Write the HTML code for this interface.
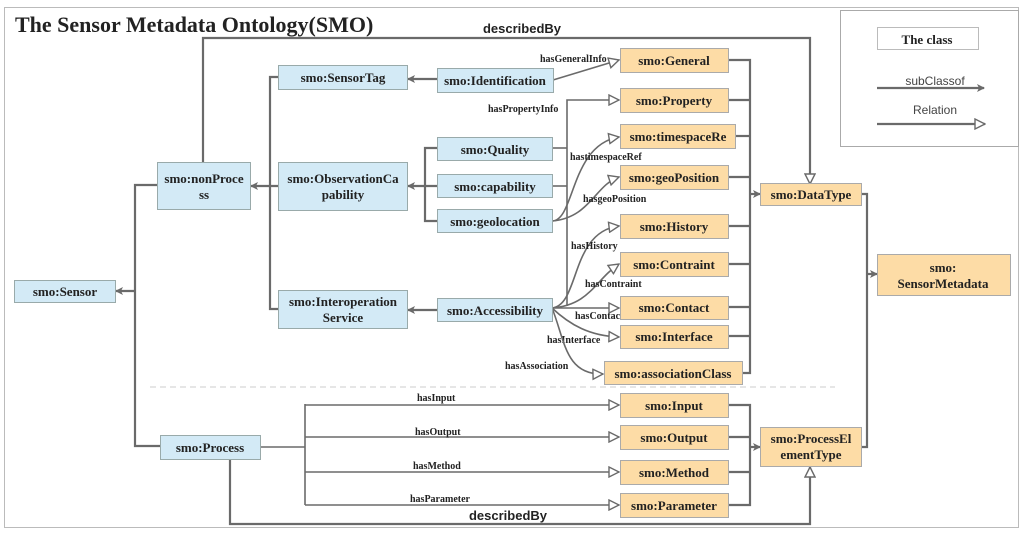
<!DOCTYPE html>
<html><head><meta charset="utf-8"><style>
body{margin:0;background:#fff}
svg{display:block}
.b{fill:#d3eaf6;stroke:#9aa;stroke-width:1}
.o{fill:#fddca6;stroke:#aaa;stroke-width:1}
.t{font-family:"Liberation Serif",serif;font-weight:bold;font-size:13px;fill:#222;text-anchor:middle}
.l{font-family:"Liberation Serif",serif;font-weight:bold;font-size:10px;fill:#222}
.s{stroke:#6a6a6a;stroke-width:2.2;fill:none}
.r{stroke:#6a6a6a;stroke-width:1.6;fill:none}
</style></head><body>
<svg width="1024" height="534" viewBox="0 0 1024 534" xmlns="http://www.w3.org/2000/svg">
<defs>
<marker id="f" markerWidth="8" markerHeight="8" refX="7" refY="4" orient="auto" markerUnits="userSpaceOnUse"><path d="M0,0 L8,4 L0,8 L2,4Z" fill="#6a6a6a"/></marker>
<marker id="h" markerWidth="12" markerHeight="12" refX="11" refY="6" orient="auto" markerUnits="userSpaceOnUse"><path d="M1,1 L11,6 L1,11Z" fill="#fff" stroke="#6a6a6a" stroke-width="1.4"/></marker>
</defs>
<rect x="4.5" y="7.5" width="1014" height="520" fill="none" stroke="#bbb"/>
<text x="15" y="32" style="font-family:'Liberation Serif',serif;font-weight:bold;font-size:22px;fill:#222">The Sensor Metadata Ontology(SMO)</text>
<!-- legend -->
<rect x="840.5" y="10.5" width="178" height="136" fill="#fff" stroke="#aaa"/>
<rect x="877.5" y="27.5" width="101" height="22" fill="#fff" stroke="#bbb"/>
<text x="927" y="44" class="t" style="font-size:13px">The  class</text>
<text x="935" y="85" style="font-family:'Liberation Sans',sans-serif;font-size:12px;fill:#444;text-anchor:middle">subClassof</text>
<line x1="877" y1="88" x2="984" y2="88" class="s" marker-end="url(#f)"/>
<text x="935" y="114" style="font-family:'Liberation Sans',sans-serif;font-size:12px;fill:#444;text-anchor:middle">Relation</text>
<line x1="877" y1="124" x2="985" y2="124" class="s" marker-end="url(#h)"/>
<line x1="150" y1="387" x2="835" y2="387" stroke="#ccc" stroke-dasharray="6,4"/>
<polyline points="203,162 203,38 810,38 810,184" class="s" marker-end="url(#h)"/>
<text x="522" y="33" style="font-family:'Liberation Sans',sans-serif;font-weight:bold;font-size:13px;fill:#222;text-anchor:middle">describedBy</text>
<polyline points="230,459 230,524 810,524 810,467" class="s" marker-end="url(#h)"/>
<text x="508" y="520" style="font-family:'Liberation Sans',sans-serif;font-weight:bold;font-size:13px;fill:#222;text-anchor:middle">describedBy</text>
<polyline points="157,185 135,185 135,446 160,446" class="s"/>
<line x1="135" y1="291" x2="116" y2="291" class="s" marker-end="url(#f)"/>
<polyline points="278,77 270,77 270,309 278,309" class="s"/>
<line x1="278" y1="186" x2="251" y2="186" class="s" marker-end="url(#f)"/>
<line x1="437" y1="79" x2="408" y2="79" class="s" marker-end="url(#f)"/>
<polyline points="437,148 425,148 425,221 437,221" class="s"/>
<line x1="437" y1="186" x2="408" y2="186" class="s" marker-end="url(#f)"/>
<line x1="437" y1="310" x2="408" y2="310" class="s" marker-end="url(#f)"/>
<polyline points="728,60 750,60 750,373 742,373" class="s"/>
<line x1="728" y1="100" x2="750" y2="100" class="s"/>
<line x1="735" y1="136" x2="750" y2="136" class="s"/>
<line x1="728" y1="177" x2="750" y2="177" class="s"/>
<line x1="728" y1="226" x2="750" y2="226" class="s"/>
<line x1="728" y1="264" x2="750" y2="264" class="s"/>
<line x1="728" y1="307" x2="750" y2="307" class="s"/>
<line x1="728" y1="336" x2="750" y2="336" class="s"/>
<line x1="750" y1="194" x2="760" y2="194" class="s" marker-end="url(#f)"/>
<polyline points="728,405 750,405 750,505 728,505" class="s"/>
<line x1="728" y1="437" x2="750" y2="437" class="s"/>
<line x1="728" y1="472" x2="750" y2="472" class="s"/>
<line x1="750" y1="447" x2="760" y2="447" class="s" marker-end="url(#f)"/>
<polyline points="861,194 867,194 867,447 861,447" class="s"/>
<line x1="867" y1="274" x2="877" y2="274" class="s" marker-end="url(#f)"/>
<line x1="553" y1="80" x2="619" y2="60" class="r" marker-end="url(#h)"/>
<text x="540" y="62" class="l">hasGeneralInfo</text>
<polyline points="552,148 567,148" class="r"/>
<polyline points="552,186 567,186" class="r"/>
<polyline points="567,306 567,100 619,100" class="r" marker-end="url(#h)"/>
<text x="488" y="112" class="l">hasPropertyInfo</text>
<path d="M552,221 C575,221 570,145 619,137" class="r" marker-end="url(#h)"/>
<text x="570" y="160" class="l">hastimespaceRef</text>
<path d="M552,221 C590,218 595,185 619,177" class="r" marker-end="url(#h)"/>
<text x="583" y="202" class="l">hasgeoPosition</text>
<path d="M552,308 C580,305 570,232 619,226" class="r" marker-end="url(#h)"/>
<text x="571" y="249" class="l">hasHistory</text>
<path d="M552,308 C590,305 595,280 619,264" class="r" marker-end="url(#h)"/>
<text x="585" y="287" class="l">hasContraint</text>
<line x1="552" y1="308" x2="619" y2="308" class="r" marker-end="url(#h)"/>
<text x="575" y="319" class="l">hasContact</text>
<path d="M552,308 C570,325 590,336 619,337" class="r" marker-end="url(#h)"/>
<text x="547" y="343" class="l">hasInterface</text>
<path d="M552,308 C565,340 565,375 603,374" class="r" marker-end="url(#h)"/>
<text x="505" y="369" class="l">hasAssociation</text>
<polyline points="260,447 305,447" class="r"/>
<line x1="305" y1="404" x2="305" y2="505" class="r"/>
<line x1="305" y1="405" x2="619" y2="405" class="r" marker-end="url(#h)"/>
<line x1="305" y1="437" x2="619" y2="437" class="r" marker-end="url(#h)"/>
<line x1="305" y1="472" x2="619" y2="472" class="r" marker-end="url(#h)"/>
<line x1="305" y1="505" x2="619" y2="505" class="r" marker-end="url(#h)"/>
<text x="417" y="401" class="l">hasInput</text>
<text x="415" y="435" class="l">hasOutput</text>
<text x="413" y="469" class="l">hasMethod</text>
<text x="410" y="502" class="l">hasParameter</text>
<rect class="b" x="14.5" y="280.5" width="101" height="22"/><text class="t" x="65" y="296">smo:Sensor</text>
<rect class="b" x="157.5" y="162.5" width="93" height="47"/><text class="t" x="204" y="183">smo:nonProce</text><text class="t" x="204" y="199">ss</text>
<rect class="b" x="278.5" y="65.5" width="129" height="24"/><text class="t" x="343" y="82">smo:SensorTag</text>
<rect class="b" x="278.5" y="162.5" width="129" height="48"/><text class="t" x="343" y="183">smo:ObservationCa</text><text class="t" x="343" y="199">pability</text>
<rect class="b" x="278.5" y="290.5" width="129" height="38"/><text class="t" x="343" y="306">smo:Interoperation</text><text class="t" x="343" y="322">Service</text>
<rect class="b" x="437.5" y="68.5" width="116" height="24"/><text class="t" x="495" y="85">smo:Identification</text>
<rect class="b" x="437.5" y="137.5" width="115" height="23"/><text class="t" x="495" y="154">smo:Quality</text>
<rect class="b" x="437.5" y="174.5" width="115" height="23"/><text class="t" x="495" y="191">smo:capability</text>
<rect class="b" x="437.5" y="209.5" width="115" height="23"/><text class="t" x="495" y="226">smo:geolocation</text>
<rect class="b" x="437.5" y="298.5" width="115" height="23"/><text class="t" x="495" y="315">smo:Accessibility</text>
<rect class="b" x="160.5" y="435.5" width="100" height="24"/><text class="t" x="210" y="452">smo:Process</text>
<rect class="o" x="620.5" y="48.5" width="108" height="24"/><text class="t" x="674" y="65">smo:General</text>
<rect class="o" x="620.5" y="88.5" width="108" height="24"/><text class="t" x="674" y="105">smo:Property</text>
<rect class="o" x="620.5" y="124.5" width="115" height="24"/><text class="t" x="678" y="141">smo:timespaceRe</text>
<rect class="o" x="620.5" y="165.5" width="108" height="24"/><text class="t" x="674" y="182">smo:geoPosition</text>
<rect class="o" x="620.5" y="214.5" width="108" height="24"/><text class="t" x="674" y="231">smo:History</text>
<rect class="o" x="620.5" y="252.5" width="108" height="24"/><text class="t" x="674" y="269">smo:Contraint</text>
<rect class="o" x="620.5" y="296.5" width="108" height="23"/><text class="t" x="674" y="312">smo:Contact</text>
<rect class="o" x="620.5" y="325.5" width="108" height="23"/><text class="t" x="674" y="341">smo:Interface</text>
<rect class="o" x="604.5" y="361.5" width="138" height="23"/><text class="t" x="673" y="378">smo:associationClass</text>
<rect class="o" x="760.5" y="183.5" width="101" height="22"/><text class="t" x="811" y="199">smo:DataType</text>
<rect class="o" x="877.5" y="254.5" width="133" height="41"/><text class="t" x="943" y="272">smo:</text><text class="t" x="943" y="288">SensorMetadata</text>
<rect class="o" x="620.5" y="393.5" width="108" height="24"/><text class="t" x="674" y="410">smo:Input</text>
<rect class="o" x="620.5" y="425.5" width="108" height="24"/><text class="t" x="674" y="442">smo:Output</text>
<rect class="o" x="620.5" y="460.5" width="108" height="24"/><text class="t" x="674" y="477">smo:Method</text>
<rect class="o" x="620.5" y="493.5" width="108" height="24"/><text class="t" x="674" y="510">smo:Parameter</text>
<rect class="o" x="760.5" y="427.5" width="101" height="39"/><text class="t" x="811" y="443">smo:ProcessEl</text><text class="t" x="811" y="459">ementType</text>
</svg>
</body></html>
